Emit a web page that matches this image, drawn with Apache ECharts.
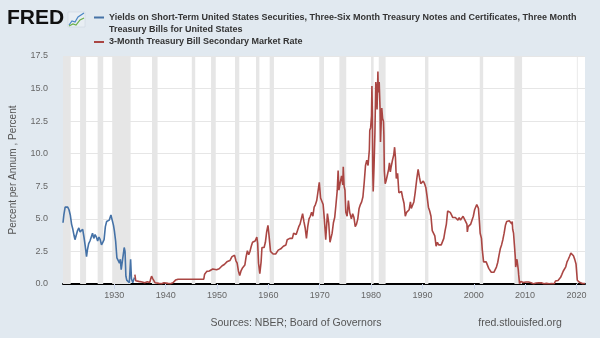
<!DOCTYPE html>
<html>
<head>
<meta charset="utf-8">
<script src="https://cdn.jsdelivr.net/npm/echarts@6/dist/echarts.min.js"></script>
<style>
  html, body { margin: 0; padding: 0; background: #e1e9f0; }
  #chart { width: 600px; height: 338px; }
</style>
</head>
<body>
<div id="chart"></div>
<script>
// Yields on short-term US securities (monthly, percent per annum)
const shortTermYields = [
  ['1920-01', 4.7], ['1920-03', 5.3], ['1920-06', 5.9], ['1920-09', 6.0], ['1920-12', 5.9],
  ['1921-03', 5.7], ['1921-06', 5.3], ['1921-09', 4.6], ['1921-12', 4.2],
  ['1922-03', 3.7], ['1922-05', 3.4], ['1922-08', 3.4], ['1922-11', 4.1],
  ['1923-02', 4.3], ['1923-05', 4.0], ['1923-08', 3.9], ['1923-11', 4.2],
  ['1924-02', 3.6], ['1924-05', 2.9], ['1924-08', 2.1], ['1924-10', 2.6],
  ['1925-01', 3.1], ['1925-04', 3.3], ['1925-07', 3.2], ['1925-10', 3.9],
  ['1926-01', 3.5], ['1926-04', 3.8], ['1926-07', 3.6], ['1926-10', 3.3],
  ['1927-01', 3.6], ['1927-04', 3.4], ['1927-07', 3.0], ['1927-10', 3.2],
  ['1928-01', 3.4], ['1928-04', 4.4], ['1928-07', 4.8], ['1928-10', 4.9],
  ['1929-01', 4.9], ['1929-03', 5.0], ['1929-05', 5.3], ['1929-08', 4.9], ['1929-11', 4.5],
  ['1930-01', 4.1], ['1930-04', 3.3], ['1930-07', 2.0], ['1930-10', 1.9],
  ['1931-01', 1.6], ['1931-03', 1.9], ['1931-05', 1.1], ['1931-07', 1.0], ['1931-10', 2.3],
  ['1931-12', 2.8], ['1932-02', 2.5], ['1932-04', 0.6], ['1932-06', 0.3], ['1932-09', 0.2],
  ['1932-12', 0.1], ['1933-03', 1.9], ['1933-05', 0.4], ['1933-08', 0.1], ['1933-12', 0.5]
];

// 3-Month Treasury Bill secondary market rate (percent)
const billRate = [
  ['1934-01', 0.72], ['1934-03', 0.25], ['1934-06', 0.15], ['1934-10', 0.2],
  ['1935-01', 0.18], ['1935-06', 0.15], ['1935-12', 0.1], ['1936-06', 0.17], ['1936-12', 0.12],
  ['1937-02', 0.4], ['1937-04', 0.6], ['1937-07', 0.4], ['1937-10', 0.3], ['1937-12', 0.1],
  ['1938-04', 0.1], ['1938-09', 0.05], ['1939-03', 0.02], ['1939-09', 0.1], ['1939-12', 0.02],
  ['1940-06', 0.05], ['1940-12', 0.02], ['1941-06', 0.1], ['1941-10', 0.05], ['1941-12', 0.3],
  ['1942-03', 0.2], ['1942-06', 0.37], ['1947-06', 0.375], ['1947-08', 0.75], ['1947-10', 0.85],
  ['1948-01', 0.97], ['1948-07', 1.0], ['1948-10', 1.15], ['1949-03', 1.15], ['1949-07', 1.0], ['1949-12', 1.1],
  ['1950-06', 1.17], ['1950-10', 1.3], ['1951-01', 1.4], ['1951-06', 1.5], ['1951-12', 1.7],
  ['1952-03', 1.6], ['1952-07', 1.8], ['1952-12', 2.1],
  ['1953-03', 2.0], ['1953-06', 2.2], ['1953-09', 1.8], ['1953-12', 1.6],
  ['1954-03', 1.0], ['1954-06', 0.65], ['1954-09', 1.0], ['1954-12', 1.2],
  ['1955-03', 1.3], ['1955-06', 1.45], ['1955-09', 2.1], ['1955-12', 2.55],
  ['1956-03', 2.25], ['1956-06', 2.5], ['1956-09', 2.9], ['1956-12', 3.2],
  ['1957-03', 3.1], ['1957-06', 3.3], ['1957-10', 3.6], ['1957-12', 3.1],
  ['1958-02', 1.6], ['1958-05', 0.8], ['1958-08', 1.7], ['1958-10', 2.8], ['1958-12', 2.75],
  ['1959-03', 2.8], ['1959-06', 3.2], ['1959-09', 4.0], ['1959-12', 4.5],
  ['1960-02', 3.9], ['1960-04', 3.2], ['1960-06', 2.5], ['1960-09', 2.5], ['1960-12', 2.3],
  ['1961-03', 2.4], ['1961-06', 2.3], ['1961-09', 2.3], ['1961-12', 2.6],
  ['1962-03', 2.7], ['1962-06', 2.7], ['1962-09', 2.8], ['1962-12', 2.9],
  ['1963-03', 2.9], ['1963-06', 3.0], ['1963-09', 3.4], ['1963-12', 3.5],
  ['1964-03', 3.5], ['1964-06', 3.5], ['1964-09', 3.5], ['1964-12', 3.9],
  ['1965-03', 3.9], ['1965-06', 3.8], ['1965-09', 3.9], ['1965-12', 4.4],
  ['1966-03', 4.6], ['1966-06', 4.5], ['1966-09', 5.4], ['1966-12', 4.8],
  ['1967-03', 4.3], ['1967-06', 3.5], ['1967-09', 4.4], ['1967-12', 5.0],
  ['1968-03', 5.2], ['1968-06', 5.5], ['1968-09', 5.2], ['1968-12', 5.9],
  ['1969-03', 6.1], ['1969-06', 6.4], ['1969-09', 7.1], ['1969-12', 7.8],
  ['1970-01', 7.9], ['1970-03', 6.6], ['1970-06', 6.7], ['1970-09', 6.1], ['1970-12', 4.9],
  ['1971-03', 3.4], ['1971-07', 5.4], ['1971-10', 4.7],
  ['1972-01', 3.2], ['1972-06', 3.9], ['1972-09', 4.7], ['1972-12', 5.1],
  ['1973-03', 6.1], ['1973-06', 7.2], ['1973-08', 8.7], ['1973-10', 7.2],
  ['1974-01', 7.8], ['1974-04', 8.3], ['1974-07', 7.6], ['1974-08', 9.0], ['1974-10', 7.5], ['1974-12', 7.2],
  ['1975-02', 5.5], ['1975-05', 5.2], ['1975-08', 6.4], ['1975-11', 5.5],
  ['1976-03', 5.0], ['1976-06', 5.4], ['1976-09', 5.1], ['1976-12', 4.4],
  ['1977-03', 4.6], ['1977-06', 5.0], ['1977-09', 5.8], ['1977-12', 6.1],
  ['1978-03', 6.3], ['1978-06', 6.7], ['1978-09', 7.8], ['1978-12', 9.1],
  ['1979-03', 9.5], ['1979-06', 9.1], ['1979-09', 10.3], ['1979-10', 11.8], ['1979-12', 12.0],
  ['1980-02', 12.9], ['1980-03', 15.2], ['1980-04', 13.2], ['1980-05', 8.6], ['1980-06', 7.1],
  ['1980-08', 9.1], ['1980-10', 11.6], ['1980-12', 15.5],
  ['1981-02', 14.8], ['1981-03', 13.4], ['1981-05', 16.3], ['1981-06', 14.7], ['1981-08', 15.5],
  ['1981-10', 13.5], ['1981-11', 10.9], ['1981-12', 10.9],
  ['1982-02', 13.5], ['1982-04', 12.7], ['1982-06', 12.5], ['1982-07', 11.4], ['1982-08', 8.7],
  ['1982-10', 7.7], ['1982-12', 7.9],
  ['1983-03', 8.35], ['1983-06', 8.8], ['1983-08', 9.3], ['1983-10', 8.6], ['1983-12', 9.0],
  ['1984-03', 9.5], ['1984-06', 9.9], ['1984-08', 10.5], ['1984-10', 9.7], ['1984-12', 8.1],
  ['1985-03', 8.5], ['1985-06', 7.0], ['1985-09', 7.1], ['1985-12', 7.1],
  ['1986-03', 6.6], ['1986-06', 6.2], ['1986-09', 5.2], ['1986-12', 5.5],
  ['1987-03', 5.6], ['1987-06', 5.7], ['1987-09', 6.3], ['1987-11', 5.8],
  ['1988-02', 5.7], ['1988-05', 6.3], ['1988-08', 7.0], ['1988-12', 8.1],
  ['1989-03', 8.8], ['1989-06', 8.2], ['1989-09', 7.7], ['1989-12', 7.6],
  ['1990-03', 7.9], ['1990-06', 7.7], ['1990-09', 7.4], ['1990-12', 6.7],
  ['1991-03', 5.9], ['1991-06', 5.6], ['1991-09', 5.2], ['1991-12', 4.1],
  ['1992-03', 4.0], ['1992-06', 3.7], ['1992-09', 2.9], ['1992-12', 3.2],
  ['1993-03', 3.0], ['1993-06', 3.1], ['1993-09', 3.0], ['1993-12', 3.1],
  ['1994-03', 3.5], ['1994-06', 4.1], ['1994-09', 4.6], ['1994-12', 5.6],
  ['1995-03', 5.7], ['1995-06', 5.5], ['1995-09', 5.3], ['1995-12', 5.1],
  ['1996-03', 5.0], ['1996-06', 5.1], ['1996-09', 5.1], ['1996-12', 4.9],
  ['1997-03', 5.1], ['1997-06', 4.9], ['1997-09', 5.0], ['1997-12', 5.2],
  ['1998-03', 5.0], ['1998-06', 5.0], ['1998-09', 4.6], ['1998-10', 4.0], ['1998-12', 4.4],
  ['1999-03', 4.5], ['1999-06', 4.6], ['1999-09', 4.7], ['1999-12', 5.2],
  ['2000-03', 5.7], ['2000-06', 5.7], ['2000-08', 6.1], ['2000-11', 6.2], ['2000-12', 5.8],
  ['2001-02', 4.9], ['2001-04', 3.9], ['2001-07', 3.5], ['2001-09', 2.6], ['2001-12', 1.7],
  ['2002-03', 1.8], ['2002-06', 1.7], ['2002-09', 1.6], ['2002-12', 1.2],
  ['2003-03', 1.1], ['2003-06', 0.9], ['2003-09', 0.9], ['2003-12', 0.9],
  ['2004-03', 0.9], ['2004-06', 1.3], ['2004-09', 1.65], ['2004-12', 2.2],
  ['2005-03', 2.7], ['2005-06', 3.0], ['2005-09', 3.4], ['2005-12', 3.9],
  ['2006-03', 4.5], ['2006-06', 4.8], ['2006-09', 4.8], ['2006-12', 4.85],
  ['2007-03', 4.9], ['2007-06', 4.6], ['2007-07', 4.8], ['2007-08', 4.2], ['2007-10', 3.9], ['2007-12', 3.0],
  ['2008-02', 2.1], ['2008-03', 1.3], ['2008-06', 1.9], ['2008-09', 1.1], ['2008-10', 0.7], ['2008-12', 0.03],
  ['2009-03', 0.2], ['2009-06', 0.18], ['2009-09', 0.12], ['2009-12', 0.05],
  ['2010-03', 0.15], ['2010-06', 0.12], ['2010-09', 0.15], ['2010-12', 0.14],
  ['2011-03', 0.1], ['2011-06', 0.04], ['2011-09', 0.01], ['2011-12', 0.01],
  ['2012-03', 0.08], ['2012-06', 0.09], ['2012-09', 0.1], ['2012-12', 0.07],
  ['2013-03', 0.09], ['2013-06', 0.04], ['2013-09', 0.02], ['2013-12', 0.07],
  ['2014-03', 0.05], ['2014-06', 0.04], ['2014-09', 0.02], ['2014-12', 0.03],
  ['2015-03', 0.03], ['2015-06', 0.02], ['2015-09', 0.02], ['2015-12', 0.23],
  ['2016-03', 0.29], ['2016-06', 0.27], ['2016-09', 0.29], ['2016-12', 0.51],
  ['2017-03', 0.74], ['2017-06', 0.98], ['2017-09', 1.03], ['2017-12', 1.32],
  ['2018-03', 1.7], ['2018-06', 1.9], ['2018-09', 2.13], ['2018-12', 2.37],
  ['2019-03', 2.4], ['2019-06', 2.17], ['2019-09', 1.89], ['2019-12', 1.54],
  ['2020-02', 1.52], ['2020-03', 0.29], ['2020-04', 0.14], ['2020-09', 0.11], ['2020-12', 0.09],
  ['2021-03', 0.03], ['2021-06', 0.04], ['2021-09', 0.04]
];

// NBER recession periods (start, end)
const recessions = [
  ['1920-01', '1921-07'], ['1923-05', '1924-07'], ['1926-10', '1927-11'], ['1929-08', '1933-03'],
  ['1937-05', '1938-06'], ['1945-02', '1945-10'], ['1948-11', '1949-10'], ['1953-07', '1954-05'],
  ['1957-08', '1958-04'], ['1960-04', '1961-02'], ['1969-12', '1970-11'], ['1973-11', '1975-03'],
  ['1980-01', '1980-07'], ['1981-07', '1982-11'], ['1990-07', '1991-03'], ['2001-03', '2001-11'],
  ['2007-12', '2009-06'], ['2020-02', '2020-04']
];

const yTicks = [0, 2.5, 5, 7.5, 10, 12.5, 15, 17.5];
const seriesNames = [
  'Yields on Short-Term United States Securities, Three-Six Month Treasury Notes and Certificates, Three Month',
  'Treasury Bills for United States',
  '3-Month Treasury Bill Secondary Market Rate'
];

// 'YYYY-MM' -> decimal year
function toYear(s) {
  const [y, m] = s.split('-').map(Number);
  return y + (m - 1) / 12;
}
const toXY = arr => arr.map(([d, v]) => [toYear(d), v]);

const xMin = toYear(shortTermYields[0][0]);
const xMax = toYear(billRate[billRate.length - 1][0]);

const FONT = "'Liberation Sans', Arial, sans-serif";
const chart = echarts.init(document.getElementById('chart'), null, { renderer: 'canvas' });

chart.setOption({
  backgroundColor: '#e1e9f0',
  animation: false,
  grid: {
    left: 60, right: 15, top: 56, bottom: 54,
    show: true, backgroundColor: '#ffffff', borderWidth: 0
  },
  xAxis: {
    type: 'value',
    min: xMin, max: xMax, interval: 10,
    axisLine: { show: true, lineStyle: { color: '#000', width: 2 } },
    axisTick: { show: true, length: 5, lineStyle: { color: '#ccd6eb' } },
    axisLabel: {
      showMinLabel: false, showMaxLabel: false,
      color: '#666', fontSize: 9, fontFamily: FONT, margin: 7,
      formatter: v => String(Math.round(v))
    },
    splitLine: { show: false }
  },
  yAxis: {
    type: 'value',
    min: yTicks[0], max: yTicks[yTicks.length - 1], interval: 2.5,
    name: 'Percent per Annum , Percent',
    nameLocation: 'middle', nameGap: 45,
    nameTextStyle: { color: '#555', fontSize: 10, fontFamily: FONT },
    axisLine: { show: false },
    axisTick: { show: false },
    axisLabel: { color: '#666', fontSize: 9, fontFamily: FONT, margin: 15, formatter: v => v.toFixed(1) },
    splitLine: { lineStyle: { color: '#e6e6e6', width: 1 } }
  },
  series: [
    {
      name: 'recessions',
      type: 'line',
      data: [],
      markArea: {
        silent: true,
        itemStyle: { color: '#e6e6e6' },
        data: recessions.map(([a, b]) => [{ xAxis: toYear(a) }, { xAxis: toYear(b) }])
      }
    },
    {
      name: seriesNames[0],
      type: 'line',
      data: toXY(shortTermYields),
      showSymbol: false,
      lineStyle: { color: '#4572a7', width: 1.6 },
      itemStyle: { color: '#4572a7' },
      z: 3
    },
    {
      name: seriesNames[2],
      type: 'line',
      data: toXY(billRate),
      showSymbol: false,
      lineStyle: { color: '#aa4643', width: 1.6 },
      itemStyle: { color: '#aa4643' },
      z: 3
    }
  ],
  graphic: [
    // FRED wordmark and icon
    { type: 'text', left: 7, top: 8, style: { text: 'FRED', fill: '#111', font: "900 21px 'Liberation Sans', Arial, sans-serif" } },
    { type: 'rect', shape: { x: 68, y: 12, width: 17, height: 15 }, style: { fill: '#e8eef3', stroke: '#c9d3dc', lineWidth: 0.5 } },
    { type: 'polyline', shape: { points: [[69, 25], [72, 21], [75, 22], [78, 17], [84, 13]] }, style: { stroke: '#4a86c5', lineWidth: 1.2, fill: null } },
    { type: 'polyline', shape: { points: [[69, 26], [73, 24], [76, 25], [80, 20], [84, 18]] }, style: { stroke: '#6bb04a', lineWidth: 1.2, fill: null } },
    // legend
    { type: 'line', shape: { x1: 94, y1: 17.5, x2: 104, y2: 17.5 }, style: { stroke: '#4572a7', lineWidth: 2 } },
    { type: 'text', x: 109, y: 17.5, style: { text: seriesNames[0], fill: '#333', font: "bold 9px 'Liberation Sans', Arial, sans-serif", verticalAlign: 'middle' } },
    { type: 'text', x: 109, y: 29.5, style: { text: seriesNames[1], fill: '#333', font: "bold 9px 'Liberation Sans', Arial, sans-serif", verticalAlign: 'middle' } },
    { type: 'line', shape: { x1: 94, y1: 42, x2: 104, y2: 42 }, style: { stroke: '#aa4643', lineWidth: 2 } },
    { type: 'text', x: 109, y: 42, style: { text: seriesNames[2], fill: '#333', font: "bold 9px 'Liberation Sans', Arial, sans-serif", verticalAlign: 'middle' } },
    // footer
    { type: 'text', x: 296, y: 323, style: { text: 'Sources: NBER; Board of Governors', fill: '#555', font: "10.5px 'Liberation Sans', Arial, sans-serif", align: 'center', verticalAlign: 'middle' } },
    { type: 'text', x: 520, y: 323, style: { text: 'fred.stlouisfed.org', fill: '#555', font: "10.5px 'Liberation Sans', Arial, sans-serif", align: 'center', verticalAlign: 'middle' } }
  ]
});
</script>
</body>
</html>
